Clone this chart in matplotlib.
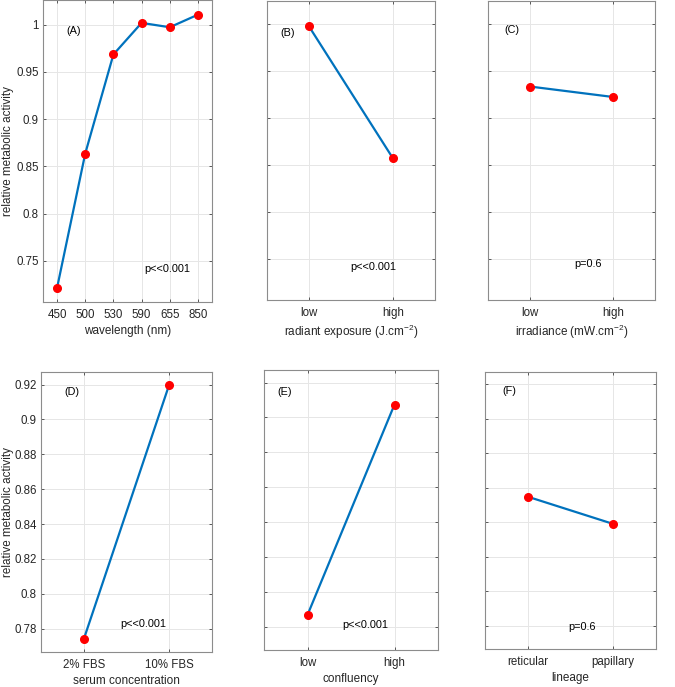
import numpy as np
import matplotlib
matplotlib.use("Agg")
import matplotlib.pyplot as plt

plt.rcParams['font.family'] = ['Liberation Sans', 'DejaVu Sans']
plt.rcParams['mathtext.default'] = 'regular'

# data
wl_labels = ['450', '500', '530', '590', '655', '850']
wl_vals = [0.7215, 0.8636, 0.9684, 1.0018, 0.9972, 1.0105]
rad_labels = ['low', 'high']
rad_vals = [0.9979, 0.8573]
irr_labels = ['low', 'high']
irr_vals = [0.9339, 0.9227]
serum_labels = ['2% FBS', '10% FBS']
serum_vals = [0.7739, 0.9200]
conf_labels = ['low', 'high']
conf_vals = [0.7867, 0.9074]
lin_labels = ['reticular', 'papillary']
lin_vals = [0.8549, 0.8391]

panels = [
    ('(A)', wl_labels, wl_vals, 'wavelength (nm)', 'p<<0.001'),
    ('(B)', rad_labels, rad_vals, 'radiant exposure (J.cm$^{-2}$)', 'p<<0.001'),
    ('(C)', irr_labels, irr_vals, 'irradiance (mW.cm$^{-2}$)', 'p=0.6'),
    ('(D)', serum_labels, serum_vals, 'serum concentration', 'p<<0.001'),
    ('(E)', conf_labels, conf_vals, 'confluency', 'p<<0.001'),
    ('(F)', lin_labels, lin_vals, 'lineage', 'p=0.6'),
]

W, H = 675., 687.
# axes boxes in pixels: left, top, right, bottom
boxes = [
    (43, 0.5, 212, 302),
    (267, 0.5, 435, 300),
    (488, 0.5, 655, 300),
    (41, 372, 212, 652),
    (264, 370, 438, 650),
    (485, 372, 656, 649),
]
# text positions (axes fraction): label, p-value
lab_pos = [(0.18, 0.9), (0.12, 0.89), (0.14, 0.9), (0.18, 0.93), (0.12, 0.92), (0.14, 0.93)]
p_pos = [(0.735, 0.11), (0.63, 0.11), (0.6, 0.12), (0.6, 0.1), (0.58, 0.09), (0.57, 0.08)]

gray = '#262626'
fig = plt.figure(figsize=(W / 100, H / 100), dpi=100)

for i, (tag, labels, vals, xlab, ptxt) in enumerate(panels):
    l, t, r, b = boxes[i]
    ax = fig.add_axes([l / W, (H - b) / H, (r - l) / W, (b - t) / H])
    x = np.arange(1, len(vals) + 1)
    ax.plot(x, vals, '-', color='#0072BD', lw=1.6, zorder=3)
    ax.plot(x, vals, 'o', color='#FF0000', ms=5.5, zorder=4)
    ax.set_xlim(0.5, len(vals) + 0.5)
    ax.set_xticks(x)
    ax.set_xticklabels(labels)
    if i < 3:
        ax.set_ylim(0.7065, 1.0255)
        ax.set_yticks([0.75, 0.8, 0.85, 0.9, 0.95, 1.0])
        ax.set_yticklabels(['0.75', '0.8', '0.85', '0.9', '0.95', '1'])
    else:
        ax.set_ylim(0.7666, 0.9272)
        ax.set_yticks([0.78, 0.8, 0.82, 0.84, 0.86, 0.88, 0.9, 0.92])
        ax.set_yticklabels(['0.78', '0.8', '0.82', '0.84', '0.86', '0.88', '0.9', '0.92'])
    if i not in (0, 3):
        ax.set_yticklabels([])
    else:
        ax.set_ylabel('relative metabolic activity', fontsize=8.4, color=gray)
        # centre of the label ~8 px from the left edge of the figure
        ax.yaxis.set_label_coords((8 - l) / (r - l), 0.5)
        ax.yaxis.label.set_va('center')
    ax.set_xlabel(xlab, fontsize=8.5, color=gray, labelpad=3)
    ax.grid(True, color='#e6e6e6', lw=0.7)
    ax.set_axisbelow(True)
    ax.tick_params(direction='in', length=2.5, width=0.6, colors='#404040',
                   labelcolor=gray, labelsize=8.3, top=True, right=True)
    ax.tick_params(axis='y', pad=3)
    ax.tick_params(axis='x', pad=5)
    for s in ax.spines.values():
        s.set_color('#8c8c8c')
        s.set_linewidth(0.8)
    ax.text(lab_pos[i][0], lab_pos[i][1], tag, transform=ax.transAxes,
            fontsize=7.8, ha='center', va='center', color='black')
    ax.text(p_pos[i][0], p_pos[i][1], ptxt, transform=ax.transAxes,
            fontsize=7.8, ha='center', va='center', color='black')

fig.savefig('out.png', dpi=100)
